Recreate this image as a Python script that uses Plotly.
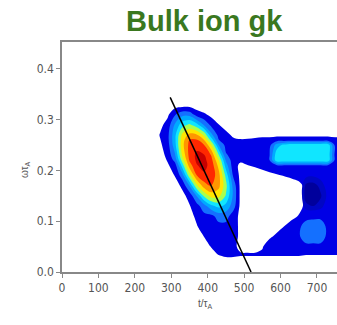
import plotly.graph_objects as go

# time axis nodes (t/tau_A) and frequency nodes (omega*tau_A) of the density map
t_vals = [250, 270, 290, 310, 330, 350, 370, 390, 410, 430, 450, 470, 490, 510,
          530, 550, 570, 590, 610, 630, 650, 670, 690, 710, 730, 750, 770]
omega_vals = [0.0, 0.02, 0.035, 0.05, 0.07, 0.09, 0.11, 0.13, 0.15, 0.17, 0.19,
              0.21, 0.22, 0.23, 0.25, 0.26, 0.27, 0.29, 0.31, 0.33, 0.35]

# spectral density (arbitrary units), one row per omega node
d000 = [-1, -1, -1, -1, -1, -1, -1, -1, -1, -1, -1, -1, -1, -1, -1, -1, -1, -1, -1, -1, -1, -1, -1, -1, -1, -1, -1]
d020 = [-1, -1, -1, -1, -1, -1, -1, -1, -0.1, 0.4, 0.52, 0.52, 0.42, 0.42, 0.42, 0.42, 0.42, 0.42, 0.42, 0.42, 0.42, 0.32, 0.32, 0.32, 0.32, 0.32, 0.32]
d035 = [-1, -1, -1, -1, -1, -1, -0.8, 0.04, 0.62, 1.07, 1.28, 1.28, 1.18, 1.18, 1.18, 1.18, 1.18, 1.18, 1.18, 1.18, 1.18, 1.08, 1.08, 1.08, 1.08, 1.08, 1.08]
d050 = [-1, -1, -1, -1, -1, -1, -0.12, 0.48, 1.07, 1.66, 1.7, 1.48, 0.5, 0.2, 0.2, 0.9, 1.68, 1.7, 1.7, 1.7, 1.7, 1.7, 1.7, 1.7, 1.7, 1.7, 1.7]
d070 = [-1, -1, -1, -1, -1, -0.22, 0.4, 1.02, 1.64, 1.7, 1.7, 1.48, 0.75, 0.02, -0.17, 0.31, 0.79, 1.27, 1.7, 1.7, 1.85, 2.6, 2.6, 2.6, 1.7, 1.7, 1.7]
d090 = [-1, -1, -1, -1, -0.5, 0.23, 0.92, 1.6, 1.7, 1.7, 1.7, 1.48, 0.75, 0.02, -0.7, -0.44, 0.03, 0.51, 1.0, 1.5, 1.7, 2.6, 2.6, 2.6, 1.7, 1.7, 1.7]
d110 = [-1, -1, -1, -0.8, -0.1, 0.58, 1.26, 1.7, 1.7, 2.4, 2.4, 1.48, 0.75, 0.02, -0.7, -1, -1, -0.25, 0.22, 0.65, 1.08, 1.5, 1.7, 1.7, 1.7, 1.7, 1.7]
d130 = [-1, -1, -1, -0.44, 0.25, 0.93, 1.62, 2.57, 3.77, 4.29, 3.72, 2.49, 0.75, 0.02, -0.7, -1, -1, -1, -0.6, -0.15, 0.58, 1.31, 1.7, 1.7, 1.7, 1.7, 1.7]
d150 = [-1, -1, -0.6, 0.07, 0.7, 1.34, 3.08, 5.16, 6.4, 6.33, 4.9, 2.83, 0.75, 0.02, -0.7, -1, -1, -1, -0.83, -0.1, 0.63, 1.36, 1.7, 1.7, 1.7, 1.7, 1.7]
d170 = [-1, -0.9, -0.07, 0.56, 1.2, 3.05, 5.81, 7.53, 8.07, 7.32, 5.33, 2.67, 0.75, 0.02, -0.7, -0.53, -0.3, -0.11, 0.1, 0.31, 0.63, 1.36, 1.7, 1.7, 1.7, 1.7, 1.7]
d190 = [-1, -0.3, 0.4, 1.05, 2.51, 5.56, 7.98, 8.76, 8.63, 7.41, 4.71, 1.88, 0.75, 0.02, 0.22, 0.44, 0.66, 0.86, 1.07, 1.28, 1.5, 1.35, 1.7, 1.7, 1.7, 1.7, 1.7]
d210 = [-0.6, 0.21, 0.86, 1.51, 4.37, 7.49, 8.93, 9.35, 8.58, 6.72, 3.5, 1.48, 0.76, 0.98, 1.19, 1.41, 1.7, 1.9, 1.9, 1.9, 1.9, 1.9, 1.9, 1.9, 1.9, 1.7, 1.7]
d220 = [-0.2, 0.45, 1.09, 2.3, 5.44, 8.1, 9.2, 9.31, 8.33, 6.12, 2.85, 1.51, 1.18, 1.47, 1.68, 1.7, 2.0, 4.7, 4.7, 4.7, 4.7, 4.7, 4.7, 4.7, 4.7, 1.7, 1.7]
d230 = [-0.15, 0.58, 1.29, 2.85, 6.12, 8.33, 9.24, 9.08, 7.94, 5.13, 2.11, 1.7, 1.68, 1.7, 1.7, 1.7, 2.0, 4.7, 4.7, 4.7, 4.7, 4.7, 4.7, 4.7, 4.7, 1.7, 1.7]
d250 = [0.14, 0.84, 1.56, 3.64, 6.64, 8.3, 8.65, 8.08, 6.09, 3.0, 1.7, 1.7, 1.6, 1.7, 1.7, 1.7, 1.7, 3.5, 4.3, 4.7, 4.7, 4.7, 4.7, 4.7, 4.7, 1.7, 1.7]
d260 = [0.24, 0.97, 1.69, 3.75, 6.53, 8.03, 8.1, 7.04, 4.59, 2.03, 1.68, 1.19, 1.09, 1.14, 1.25, 1.25, 1.25, 1.5, 1.5, 1.5, 1.5, 1.5, 1.5, 1.5, 1.5, 1.25, 1.25]
d270 = [0.38, 1.09, 1.7, 3.73, 6.22, 7.3, 7.14, 5.81, 3.27, 1.7, 1.31, 0.82, 0.58, 0.61, 0.65, 0.78, 0.78, 0.78, 0.78, 0.78, 0.78, 0.78, 0.78, 0.78, 0.78, 0.78, 0.78]
d290 = [0.08, 0.75, 1.38, 3.12, 4.57, 5.17, 4.34, 2.87, 1.7, 1.04, 0.57, 0.07, -0.28, -0.25, -0.25, -0.25, -0.25, -0.25, -0.25, -0.25, -0.25, -0.25, -0.25, -0.25, -0.25, -0.25, -0.25]
d310 = [-0.38, 0.25, 0.8, 1.9, 2.68, 2.63, 1.55, 1.17, 0.71, 0.25, -0.18, -0.68, -1, -1, -1, -1, -1, -1, -1, -1, -1, -1, -1, -1, -1, -1, -1]
d330 = [-1, -0.36, 0.08, 0.44, 0.44, 0.44, 0.33, 0.18, -0.07, -0.53, -1, -1, -1, -1, -1, -1, -1, -1, -1, -1, -1, -1, -1, -1, -1, -1, -1]
d350 = [-1, -1, -1, -1, -1, -1, -1, -1, -1, -1, -1, -1, -1, -1, -1, -1, -1, -1, -1, -1, -1, -1, -1, -1, -1, -1, -1]

density = [d000, d020, d035, d050, d070, d090, d110, d130, d150, d170, d190,
           d210, d220, d230, d250, d260, d270, d290, d310, d330, d350]

# darker (navy) pocket inside the right-hand blue region
navy_t = [650, 670, 690, 710, 730]
navy_omega = [0.11, 0.13, 0.15, 0.17, 0.19]
navy_density = [
    [0, 0, 0, 0, 0],
    [0, 0.6, 0.7, 0.55, 0.15],
    [0, 0.9, 1.0, 0.75, 0.3],
    [0, 0.8, 0.85, 0.6, 0.2],
    [0, 0.3, 0.35, 0.25, 0],
]

# straight black guide line
line_t = [297, 519]
line_omega = [0.344, 0.0]

x_ticks = [0, 100, 200, 300, 400, 500, 600, 700]
y_ticks = [0.0, 0.1, 0.2, 0.3, 0.4]
y_ticklabels = ["0.0", "0.1", "0.2", "0.3", "0.4"]

band_colors = ["#ffffff", "#0000e6", "#1470ff", "#00aaff", "#10e6ff",
               "#a8ff50", "#ffe600", "#ff9600", "#ff2800", "#c80000"]
jet_bands = [[i / 9, c] for i, c in enumerate(band_colors)]

tick_font = dict(family="Liberation Sans Narrow, DejaVu Sans Condensed, Liberation Sans, Arial", size=12, color="#555555")

fig = go.Figure()
fig.add_trace(go.Contour(
    x=t_vals, y=omega_vals, z=density,
    contours=dict(start=1, end=9, size=1, coloring="fill", showlines=False),
    colorscale=jet_bands, showscale=False, line=dict(width=0, smoothing=1.0),
    hoverinfo="skip"))
fig.add_trace(go.Contour(
    x=navy_t, y=navy_omega, z=navy_density,
    contours=dict(start=0.4, end=0.7, size=0.3, coloring="fill", showlines=False),
    colorscale=[[0, "rgba(0,0,0,0)"], [0.5, "#0006c4"], [1, "#00009c"]],
    showscale=False, line=dict(width=0, smoothing=1.0), hoverinfo="skip"))
fig.add_trace(go.Scatter(x=line_t, y=line_omega, mode="lines",
                         line=dict(color="black", width=1.5), hoverinfo="skip"))

fig.update_layout(
    width=337, height=325,
    margin=dict(l=62, r=0, t=42, b=53),
    paper_bgcolor="white", plot_bgcolor="white",
    showlegend=False,
    xaxis=dict(range=[0, 755], tickvals=x_ticks, ticks="outside", ticklen=4,
               tickcolor="#888888", showline=True, linecolor="#888888", linewidth=1.5,
               mirror=True, showgrid=False, zeroline=False, tickfont=tick_font),
    yaxis=dict(range=[0, 0.453], tickvals=y_ticks, ticktext=y_ticklabels,
               ticks="outside", ticklen=4, tickcolor="#888888", showline=True,
               linecolor="#888888", linewidth=1.5, mirror=False, showgrid=False,
               zeroline=False, tickfont=tick_font),
    annotations=[
        dict(text="<b>Bulk ion gk</b>", xref="paper", yref="paper",
             x=(204 - 62) / 275, y=1 + (42 - 21) / 230, xanchor="center", yanchor="middle",
             showarrow=False, font=dict(family="Liberation Sans, Arial", size=29, color="#3a781f")),
        dict(text="ωτ<sub>A</sub>", xref="paper", yref="paper",
             x=(25 - 62) / 275, y=(272 - 170) / 230, xanchor="center", yanchor="middle",
             textangle=-90, showarrow=False, font=dict(family="Liberation Sans, Arial", size=10, color="#555555")),
        dict(text="t/τ<sub>A</sub>", xref="paper", yref="paper",
             x=(205 - 62) / 275, y=(272 - 304) / 230, xanchor="center", yanchor="middle",
             showarrow=False, font=dict(family="Liberation Sans, Arial", size=10, color="#555555")),
    ],
)

fig.write_html("out.html")
